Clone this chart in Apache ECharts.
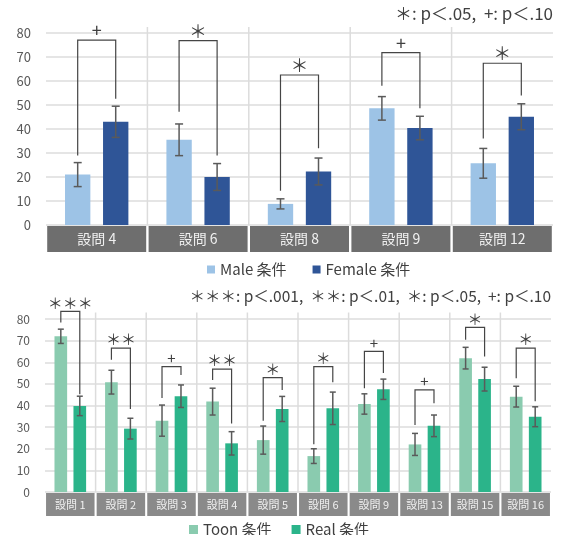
<!DOCTYPE html>
<html>
<head>
<meta charset="utf-8">
<script src="https://cdn.jsdelivr.net/npm/echarts@6/dist/echarts.min.js"></script>
<style>
html, body { margin: 0; padding: 0; background: #fff; }
#main { width: 561px; height: 535px; }
</style>
</head>
<body>
<div id="main"></div>
<script>
// 上段: Male / Female
var topCats = ['設問 4', '設問 6', '設問 8', '設問 9', '設問 12'];
var maleMean = [21, 35.5, 8.8, 48.6, 25.7];
var maleErr = [5, 6.6, 2.1, 4.9, 6.2];
var femaleMean = [43, 20, 22.3, 40.4, 45.1];
var femaleErr = [6.5, 5.6, 5.6, 4.9, 5.4];
var topSig = ['+', '＊', '＊', '+', '＊'];
var topBracket = [77, 76.8, 62.5, 71.8, 67.4];
var topLegL = [29, 47.2, 14.3, 58, 36];
var topLegR = [52.6, 29, 32, 48.6, 54];

// 下段: Toon / Real
var botCats = ['設問 1', '設問 2', '設問 3', '設問 4', '設問 5', '設問 6', '設問 9', '設問 13', '設問 15', '設問 16'];
var toonMean = [72, 50.8, 33, 41.8, 24, 16.6, 40.7, 22, 61.9, 44.1];
var toonErr = [3.3, 5.5, 7.2, 6.2, 6.5, 3.4, 4.7, 5.1, 5, 4.8];
var realMean = [39.8, 29.3, 44.3, 22.5, 38.4, 38.7, 47.5, 30.6, 52.2, 34.8];
var realErr = [4.5, 4.8, 5.2, 5.4, 5.8, 7.5, 4.7, 5, 5.5, 4.6];
var botSig = ['＊＊＊', '＊＊', '+', '＊＊', '＊', '＊', '+', '+', '＊', '＊'];
var botBracket = [83.5, 66.5, 58, 56.8, 52.9, 58, 65, 47.2, 76.1, 66.5];
var botLegL = [78.4, 61.1, 43.5, 51.8, 33, 22.1, 48, 31, 70.4, 52.6];
var botLegR = [45.2, 38.4, 54.1, 31.7, 47.2, 50.8, 55, 41, 62.7, 42];

var yTicks = {min: 0, max: 80, interval: 10};
var FONT = '"Noto Sans CJK JP", "Noto Sans", sans-serif';

// エラーバー
var errorSeries = function(xi, means, errs, side, cap) {
    return {
        type: 'custom', xAxisIndex: xi, yAxisIndex: xi, z: 5,
        data: means.map(function(m, i) { return [i, m - errs[i], m + errs[i]]; }),
        encode: {x: 0, y: [1, 2]},
        renderItem: function(params, api) {
            var band = api.size([1, 0])[0];
            var lo = api.coord([api.value(0), api.value(1)]);
            var hi = api.coord([api.value(0), api.value(2)]);
            var x = lo[0] + side * band * 0.1875;
            var st = {stroke: '#5a5a5a', lineWidth: 1.5};
            return {type: 'group', children: [
                {type: 'line', shape: {x1: x, y1: lo[1], x2: x, y2: hi[1]}, style: st},
                {type: 'line', shape: {x1: x - cap, y1: lo[1], x2: x + cap, y2: lo[1]}, style: st},
                {type: 'line', shape: {x1: x - cap, y1: hi[1], x2: x + cap, y2: hi[1]}, style: st}
            ]};
        }
    };
};

// 有意差の括弧
var bracketSeries = function(xi, tops, lefts, rights, sigs, fs) {
    return {
        type: 'custom', xAxisIndex: xi, yAxisIndex: xi, z: 6, clip: false,
        data: tops.map(function(t, i) { return [i, t, lefts[i], rights[i]]; }),
        encode: {x: 0, y: [1, 2, 3]},
        renderItem: function(params, api) {
            var band = api.size([1, 0])[0];
            var off = band * 0.1875;
            var c = api.value(0);
            var t = api.coord([c, api.value(1)]);
            var l = api.coord([c, api.value(2)]);
            var r = api.coord([c, api.value(3)]);
            return {type: 'group', children: [
                {type: 'polyline', shape: {points: [[t[0] - off, l[1]], [t[0] - off, t[1]], [t[0] + off, t[1]], [t[0] + off, r[1]]]},
                    style: {stroke: '#454545', lineWidth: 1.2, fill: null}},
                {type: 'text', style: {text: sigs[params.dataIndex], x: t[0], y: t[1] - 1, align: 'center', verticalAlign: 'bottom',
                    fontSize: fs, fontFamily: FONT, fill: '#404040'}}
            ]};
        }
    };
};

// カテゴリ間の縦区切り線（80より少し上まで伸ばす）
var separatorSeries = function(xi, cats, topVal) {
    return {
        type: 'custom', xAxisIndex: xi, yAxisIndex: xi, z: 1, clip: false, silent: true,
        data: cats.slice(1).map(function(c, i) { return [i + 1, 0, topVal]; }),
        encode: {x: 0, y: [1, 2]},
        renderItem: function(params, api) {
            var band = api.size([1, 0])[0];
            var lo = api.coord([api.value(0), api.value(1)]);
            var hi = api.coord([api.value(0), api.value(2)]);
            var x = lo[0] - band / 2;
            return {type: 'line', shape: {x1: x, y1: lo[1], x2: x, y2: hi[1]}, style: {stroke: '#dcdcdc', lineWidth: 1.5}};
        }
    };
};

var bandLabel = function(w, h, fs, bg) {
    return {
        margin: 1, interval: 0, color: '#f0f0f0', fontSize: fs, fontFamily: FONT,
        backgroundColor: bg, width: w, height: h, lineHeight: h, align: 'center', verticalAlign: 'top'
    };
};

var myChart = echarts.init(document.getElementById('main'));
option = {
    animation: false,
    textStyle: {fontFamily: FONT},
    grid: [
        {left: 46, right: 8, top: 33, height: 192},
        {left: 45, right: 10, top: 319, height: 173}
    ],
    legend: [
        {data: ['Male 条件', 'Female 条件'], left: 202, top: 257, icon: 'rect', itemWidth: 8, itemHeight: 8, itemGap: 26,
            textStyle: {fontSize: 15, color: '#404040', fontFamily: FONT}},
        {data: ['Toon 条件', 'Real 条件'], left: 184, top: 517, icon: 'rect', itemWidth: 9, itemHeight: 9, itemGap: 20,
            textStyle: {fontSize: 15, color: '#404040', fontFamily: FONT}}
    ],
    graphic: [
        {type: 'text', right: 8, top: 5, style: {text: '＊: p＜.05,  +: p＜.10', fontSize: 17, fontFamily: FONT, fill: '#404040'}},
        {type: 'text', right: 10, top: 288, style: {text: '＊＊＊: p＜.001,  ＊＊: p＜.01,  ＊: p＜.05,  +: p＜.10', fontSize: 15.5, fontFamily: FONT, fill: '#404040'}}
    ],
    xAxis: [
        {type: 'category', gridIndex: 0, data: topCats, axisLine: {show: false}, axisTick: {show: false},
            splitLine: {show: false},
            axisLabel: bandLabel(99, 26, 14, '#6e6e6e')},
        {type: 'category', gridIndex: 1, data: botCats, axisLine: {show: false}, axisTick: {show: false},
            splitLine: {show: false},
            axisLabel: bandLabel(48.5, 23, 11, '#8a8a8a')}
    ],
    yAxis: [
        {type: 'value', gridIndex: 0, min: yTicks.min, max: yTicks.max, interval: yTicks.interval,
            axisLabel: {color: '#595959', fontSize: 13, margin: 15},
            splitLine: {lineStyle: {color: '#dcdcdc', width: 1.5}}},
        {type: 'value', gridIndex: 1, min: yTicks.min, max: yTicks.max, interval: yTicks.interval,
            axisLabel: {color: '#595959', fontSize: 12, margin: 15},
            splitLine: {lineStyle: {color: '#dcdcdc', width: 1.5}}}
    ],
    series: [
        separatorSeries(0, topCats, 82.5),
        separatorSeries(1, botCats, 83),
        {name: 'Male 条件', type: 'bar', xAxisIndex: 0, yAxisIndex: 0, data: maleMean, barWidth: '25%', barGap: '50%',
            itemStyle: {color: '#9dc3e6'}},
        {name: 'Female 条件', type: 'bar', xAxisIndex: 0, yAxisIndex: 0, data: femaleMean, barWidth: '25%', barGap: '50%',
            itemStyle: {color: '#2f5597'}},
        {name: 'Toon 条件', type: 'bar', xAxisIndex: 1, yAxisIndex: 1, data: toonMean, barWidth: '25%', barGap: '50%',
            itemStyle: {color: '#8acbaf'}},
        {name: 'Real 条件', type: 'bar', xAxisIndex: 1, yAxisIndex: 1, data: realMean, barWidth: '25%', barGap: '50%',
            itemStyle: {color: '#2bb48a'}},
        errorSeries(0, maleMean, maleErr, -1, 4),
        errorSeries(0, femaleMean, femaleErr, 1, 4),
        errorSeries(1, toonMean, toonErr, -1, 3),
        errorSeries(1, realMean, realErr, 1, 3),
        bracketSeries(0, topBracket, topLegL, topLegR, topSig, 18),
        bracketSeries(1, botBracket, botLegL, botLegR, botSig, 15)
    ]
};
myChart.setOption(option);
</script>
</body>
</html>
